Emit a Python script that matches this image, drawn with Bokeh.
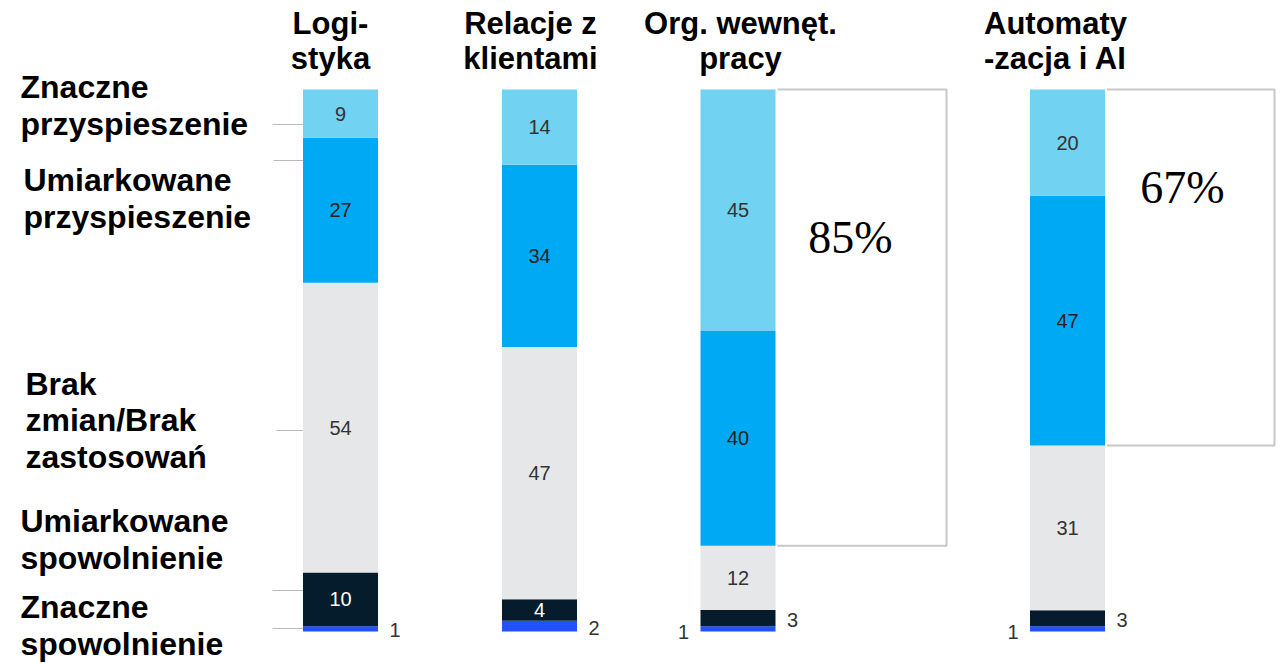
from bokeh.plotting import figure
from bokeh.models import Range1d, ColumnDataSource
from bokeh.core.properties import value
from bokeh.embed import file_html
from bokeh.resources import INLINE

# ---------------- data ----------------
categories = ["Logi-\nstyka", "Relacje z\nklientami", "Org. wewnęt.\npracy", "Automaty\n-zacja i AI"]
segment_names = ["Znaczne\nspowolnienie", "Umiarkowane\nspowolnienie", "Brak\nzmian/Brak\nzastosowań",
                 "Umiarkowane\nprzyspieszenie", "Znaczne\nprzyspieszenie"]
sig_slow = [1, 2, 1, 1]
mod_slow = [10, 4, 3, 3]
no_change = [54, 47, 12, 31]
mod_acc = [27, 34, 40, 47]
sig_acc = [9, 14, 45, 20]
bracket_bars = [2, 3]  # bars with bracket showing share of acceleration

series = [sig_slow, mod_slow, no_change, mod_acc, sig_acc]
colors = ["#2251FF", "#051C2C", "#E6E7E8", "#00A9F4", "#71D2F1"]
text_cols = ["#222222", "#FFFFFF", "#333333", "#222222", "#333333"]

# ---------------- layout ----------------
W, H = 1284, 663
PX = 5.42           # pixels per percent
BASE = 631          # pixel of bar base
def v(py):          # pixel row -> value units
    return (BASE - py) / PX

bar_x = [340, 539, 737.5, 1067]
bar_w = 75
title_x = [330, 530, 740, 1055]

p = figure(width=W, height=H, output_backend="svg", toolbar_location=None,
           x_range=Range1d(0, W), y_range=Range1d(v(H), v(0)),
           x_axis_location=None, y_axis_location=None,
           min_border=0, min_border_left=0, min_border_right=0,
           min_border_top=0, min_border_bottom=0)
p.grid.visible = False
p.outline_line_color = None
p.background_fill_color = "white"
p.border_fill_color = "white"

FONT = value("Liberation Sans")

# stacked bars (normalised per bar)
tops_by_bar = []
in_x, in_y, in_t, in_c = [], [], [], []
for b in range(len(categories)):
    total = sum(s[b] for s in series)
    bottom = 0.0
    tops = []
    for k, s in enumerate(series):
        h = s[b] / total * 100
        p.quad(left=bar_x[b] - bar_w / 2, right=bar_x[b] + bar_w / 2,
               bottom=bottom, top=bottom + h, fill_color=colors[k], line_color=None)
        if s[b] >= 4:
            in_x.append(bar_x[b]); in_y.append(bottom + h / 2)
            in_t.append(str(s[b])); in_c.append(text_cols[k])
        tops.append(bottom + h)
        bottom += h
    tops_by_bar.append(tops)

p.text(x="x", y="y", text="t", text_color="c",
       source=ColumnDataSource(dict(x=in_x, y=in_y, t=in_t, c=in_c)),
       text_font=FONT, text_font_size="20px", text_align="center", text_baseline="middle")

# small outside labels
out_x, out_y, out_t, out_a = [], [], [], []
for b in range(len(categories)):
    tops = tops_by_bar[b]
    total = sum(ss[b] for ss in series)
    for k in (0, 1):
        s = series[k]
        if s[b] >= 4:
            continue
        mid = tops[k] - s[b] / total * 100 / 2
        if k == 0 and b in bracket_bars:
            out_x.append(bar_x[b] - bar_w / 2 - 17); out_a.append("center")
            out_y.append(mid - 0.6)
        else:
            out_x.append(bar_x[b] + bar_w / 2 + 17); out_a.append("center")
            out_y.append(mid - 0.3)
        out_t.append(str(s[b]))
p.text(x="x", y="y", text="t", text_align="a",
       source=ColumnDataSource(dict(x=out_x, y=out_y, t=out_t, a=out_a)),
       text_font=FONT, text_font_size="20px", text_baseline="middle", text_color="#333333")

# titles
p.text(x=title_x, y=[v(40)] * 4, text=categories, text_font=FONT, text_font_style="bold",
       text_font_size="31px", text_align="center", text_baseline="middle",
       text_color="#000000", text_line_height=1.0)

# left category labels
label_y = [v(625), v(539), v(420), v(198), v(105)]
label_x = [20, 20, 25, 23, 20]
p.text(x=label_x, y=label_y, text=segment_names, text_font=FONT, text_font_style="bold",
       text_font_size="32px", text_align="left", text_baseline="middle",
       text_color="#000000", text_line_height=1.02)

# leader lines
leader_y = [v(124), v(160), v(430), v(590), v(628)]
leader_x0 = [272, 273, 276, 272, 272]
p.segment(x0=leader_x0, x1=[bar_x[0] - bar_w / 2] * 5, y0=leader_y, y1=leader_y,
          line_color="#BBBBBB", line_width=1)

# brackets with share of acceleration
box_right = {2: 946, 3: 1274}
pct_pos = {2: (850, v(237)), 3: (1182, v(187))}
for b in bracket_bars:
    top = tops_by_bar[b][4]
    bot = tops_by_bar[b][2]
    x0 = bar_x[b] + bar_w / 2 + 2
    x1 = box_right[b]
    p.line(x=[x0, x1, x1, x0], y=[top, top, bot, bot], line_color="#C8C8C8", line_width=2)
    share = mod_acc[b] + sig_acc[b]
    px, py = pct_pos[b]
    p.text(x=[px], y=[py], text=[f"{share}%"], text_font=value("Liberation Serif"),
           text_font_size="46px", text_align="center", text_baseline="middle", text_color="#000000")

open("out.html", "w").write(file_html(p, INLINE))
